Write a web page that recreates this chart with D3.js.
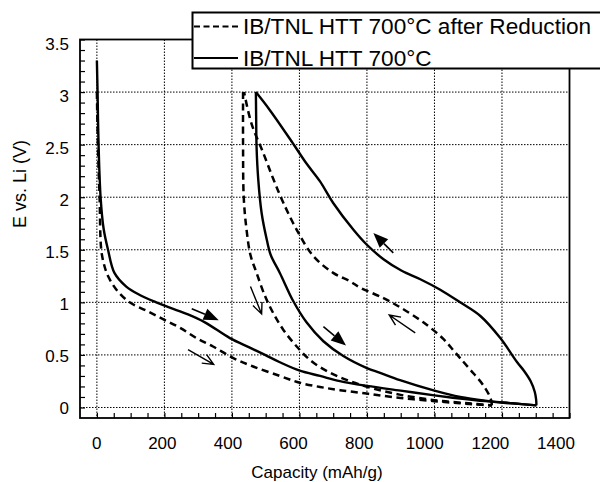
<!DOCTYPE html>
<html>
<head>
<meta charset="utf-8">
<script src="https://cdn.jsdelivr.net/npm/d3@7/dist/d3.min.js"></script>
<style>
body { margin: 0; background: #fff; }
text { font-family: "Liberation Sans", Arial, Helvetica, sans-serif; fill: #000; }
</style>
</head>
<body>
<div id="chart"></div>
<script>
var w = 600,
    h = 482;

// tick labels
var xTickVals = [0, 200, 400, 600, 800, 1000, 1200, 1400];
var yTickVals = [0, 0.5, 1, 1.5, 2, 2.5, 3, 3.5];
var yTickText = ['0', '0.5', '1', '1.5', '2', '2.5', '3', '3.5'];

var legendNames = ['IB/TNL HTT 700°C after Reduction', 'IB/TNL HTT 700°C'];

// IB/TNL HTT 700°C (solid) : [capacity mAh/g, E V]
var solidDis1 = [[0,3.30],[2,3.0],[5,2.5],[11,2.0],[20,1.7],[33,1.5],[52,1.28],[87,1.15],[127,1.07],[176,1.0],
  [216,0.95],[270,0.885],[320,0.81],[394,0.66],[453,0.57],[498,0.50],[542,0.43],[601,0.35],[661,0.30],
  [720,0.25],[800,0.205],[900,0.16],[1000,0.115],[1076,0.085],[1150,0.06],[1230,0.04],[1302,0.02]];
var solidCharge = [[1302,0.02],[1301,0.08],[1297,0.15],[1285,0.25],[1265,0.35],[1245,0.43],[1195,0.66],
  [1136,0.87],[1076,1.0],[1017,1.12],[958,1.22],[903,1.30],[849,1.41],[799,1.55],[760,1.69],[700,1.945],
  [661,2.15],[621,2.32],[577,2.53],[512,2.83],[471,3.0]];
var solidDis2 = [[471,3.0],[472,2.7],[473,2.48],[478,2.17],[488,1.85],[503,1.6],[515,1.45],[542,1.28],[582,1.01],
  [621,0.81],[671,0.63],[730,0.49],[800,0.375],[839,0.33],[898,0.26],[1000,0.16],[1076,0.10],[1150,0.065],
  [1230,0.04],[1302,0.02]];

// IB/TNL HTT 700°C after Reduction (dashed)
var dashDis1 = [[0,3.0],[3,2.5],[8,2.0],[13,1.5],[22,1.35],[33,1.25],[58,1.12],[97,1.0],[147,0.92],[196,0.84],
  [245,0.76],[295,0.66],[344,0.58],[404,0.47],[463,0.39],[542,0.30],[601,0.235],[661,0.195],[720,0.165],
  [804,0.13],[900,0.09],[1000,0.06],[1076,0.04],[1120,0.03],[1170,0.02]];
var dashCharge = [[1170,0.02],[1167,0.08],[1146,0.205],[1106,0.36],[1076,0.47],[1057,0.54],[1027,0.65],
  [967,0.81],[900,0.95],[849,1.04],[780,1.14],[750,1.2],[700,1.28],[641,1.44],[592,1.69],[552,1.95],
  [523,2.17],[493,2.42],[458,2.70],[436,3.0]];
var dashDis2 = [[433,3.0],[433,2.5],[435,2.0],[443,1.7],[455,1.45],[473,1.28],[498,1.06],[522,0.90],[552,0.74],
  [592,0.58],[636,0.44],[691,0.33],[750,0.25],[820,0.18],[900,0.12],[1000,0.07],[1100,0.04],[1170,0.02]];

// direction arrows: [from, to, filled]
var arrows = [
  [[281,0.94],[361,0.83],true],
  [[270,0.55],[346,0.41],false],
  [[455,1.15],[488,0.89],false],
  [[671,0.77],[738,0.59],true],
  [[943,0.71],[866,0.88],false],
  [[878,1.47],[819,1.66],true]
];

var svg = d3.select('#chart').append('svg').attr('width', w).attr('height', h);

var x = d3.scaleLinear().domain([-50, 1400]).range([80, 569.5]);
var y = d3.scaleLinear().domain([-0.1, 3.5]).range([418, 39.5]);
// printed tick labels sit slightly off the grid in the original
var xLab = d3.scaleLinear().domain([0, 1400]).range([96.7, 556]);
var yLab = d3.scaleLinear().domain([0, 3.5]).range([408, 44]);

// grid
svg.selectAll('.gx').data(xTickVals.filter(function (d) { return d < 1400; })).enter()
  .append('line')
  .attr('x1', function (d) { return x(d); }).attr('x2', function (d) { return x(d); })
  .attr('y1', y(3.5)).attr('y2', y(-0.1))
  .attr('stroke', '#000').attr('stroke-width', 1).attr('stroke-dasharray', '1.5,1.5');
svg.selectAll('.gy').data(yTickVals.filter(function (d) { return d < 3.5; })).enter()
  .append('line')
  .attr('y1', function (d) { return y(d); }).attr('y2', function (d) { return y(d); })
  .attr('x1', x(-50)).attr('x2', x(1400))
  .attr('stroke', '#000').attr('stroke-width', 1).attr('stroke-dasharray', '1.5,1.5');

// inside minor ticks
var xAxis = d3.axisTop(x).tickValues(d3.range(0, 1401, 50)).tickSize(5).tickFormat('');
svg.append('g').attr('transform', 'translate(0,' + y(-0.1) + ')').call(xAxis)
  .call(function (g) { g.select('.domain').remove(); g.selectAll('line').attr('stroke-width', 1.2); });
var yAxis = d3.axisRight(y).tickValues(d3.range(0, 36, 1).map(function (i) { return i / 10; })).tickSize(5).tickFormat('');
svg.append('g').attr('transform', 'translate(' + x(-50) + ',0)').call(yAxis)
  .call(function (g) { g.select('.domain').remove(); g.selectAll('line').attr('stroke-width', 1.2); });

// frame
svg.append('rect')
  .attr('x', x(-50)).attr('y', y(3.5))
  .attr('width', x(1400) - x(-50)).attr('height', y(-0.1) - y(3.5))
  .attr('fill', 'none').attr('stroke', '#000').attr('stroke-width', 1.8);

// tick labels
svg.selectAll('.xl').data(xTickVals).enter().append('text')
  .attr('x', function (d) { return xLab(d); }).attr('y', 449)
  .attr('text-anchor', 'middle').attr('font-size', 17)
  .text(function (d) { return d; });
svg.selectAll('.yl').data(yTickVals).enter().append('text')
  .attr('x', 69).attr('y', function (d) { return yLab(d) + 6; })
  .attr('text-anchor', 'end').attr('font-size', 17)
  .text(function (d, i) { return yTickText[i]; });

svg.append('text').attr('x', 317).attr('y', 478).attr('text-anchor', 'middle')
  .attr('font-size', 17).text('Capacity (mAh/g)');
svg.append('text').attr('transform', 'translate(26,184) rotate(-90)').attr('text-anchor', 'middle')
  .attr('font-size', 18).text('E vs. Li (V)');

// curves
var line = d3.line()
  .x(function (d) { return x(d[0]); })
  .y(function (d) { return y(d[1]); })
  .curve(d3.curveCatmullRom.alpha(0.5));

[solidDis1, solidCharge, solidDis2].forEach(function (seg) {
  svg.append('path').datum(seg).attr('d', line)
    .attr('fill', 'none').attr('stroke', '#000').attr('stroke-width', 2.4);
});
[dashDis1, dashCharge, dashDis2].forEach(function (seg) {
  svg.append('path').datum(seg).attr('d', line)
    .attr('fill', 'none').attr('stroke', '#000').attr('stroke-width', 2.5)
    .attr('stroke-dasharray', '7,4.5');
});

// arrows
arrows.forEach(function (a) {
  var x0 = x(a[0][0]), y0 = y(a[0][1]), x1 = x(a[1][0]), y1 = y(a[1][1]);
  var ang = Math.atan2(y1 - y0, x1 - x0);
  if (a[2]) {
    var len = 15, hw = 6;
    var bx = x1 - len * Math.cos(ang), by = y1 - len * Math.sin(ang);
    svg.append('line').attr('x1', x0).attr('y1', y0).attr('x2', bx).attr('y2', by)
      .attr('stroke', '#000').attr('stroke-width', 1.6);
    svg.append('path')
      .attr('d', 'M' + x1 + ',' + y1 +
        'L' + (bx + hw * Math.sin(ang)) + ',' + (by - hw * Math.cos(ang)) +
        'L' + (bx - hw * Math.sin(ang)) + ',' + (by + hw * Math.cos(ang)) + 'Z')
      .attr('fill', '#000');
  } else {
    var bl = 12, spread = 0.42;
    svg.append('path')
      .attr('d', 'M' + x0 + ',' + y0 + 'L' + x1 + ',' + y1 +
        'M' + (x1 - bl * Math.cos(ang - spread)) + ',' + (y1 - bl * Math.sin(ang - spread)) +
        'L' + x1 + ',' + y1 +
        'L' + (x1 - bl * Math.cos(ang + spread)) + ',' + (y1 - bl * Math.sin(ang + spread)))
      .attr('fill', 'none').attr('stroke', '#000').attr('stroke-width', 1.4);
  }
});

// legend
var lg = svg.append('g');
lg.append('rect').attr('x', 192.5).attr('y', 12.5).attr('width', 420).attr('height', 56)
  .attr('fill', '#fff').attr('stroke', '#000').attr('stroke-width', 2);
lg.append('line').attr('x1', 194).attr('x2', 238).attr('y1', 26.5).attr('y2', 26.5)
  .attr('stroke', '#000').attr('stroke-width', 2).attr('stroke-dasharray', '6,3.5');
lg.append('line').attr('x1', 194).attr('x2', 238).attr('y1', 58).attr('y2', 58)
  .attr('stroke', '#000').attr('stroke-width', 2);
lg.append('text').attr('x', 243).attr('y', 34).attr('font-size', 22.6).text(legendNames[0]);
lg.append('text').attr('x', 243).attr('y', 66).attr('font-size', 22.6).text(legendNames[1]);
</script>
</body>
</html>
